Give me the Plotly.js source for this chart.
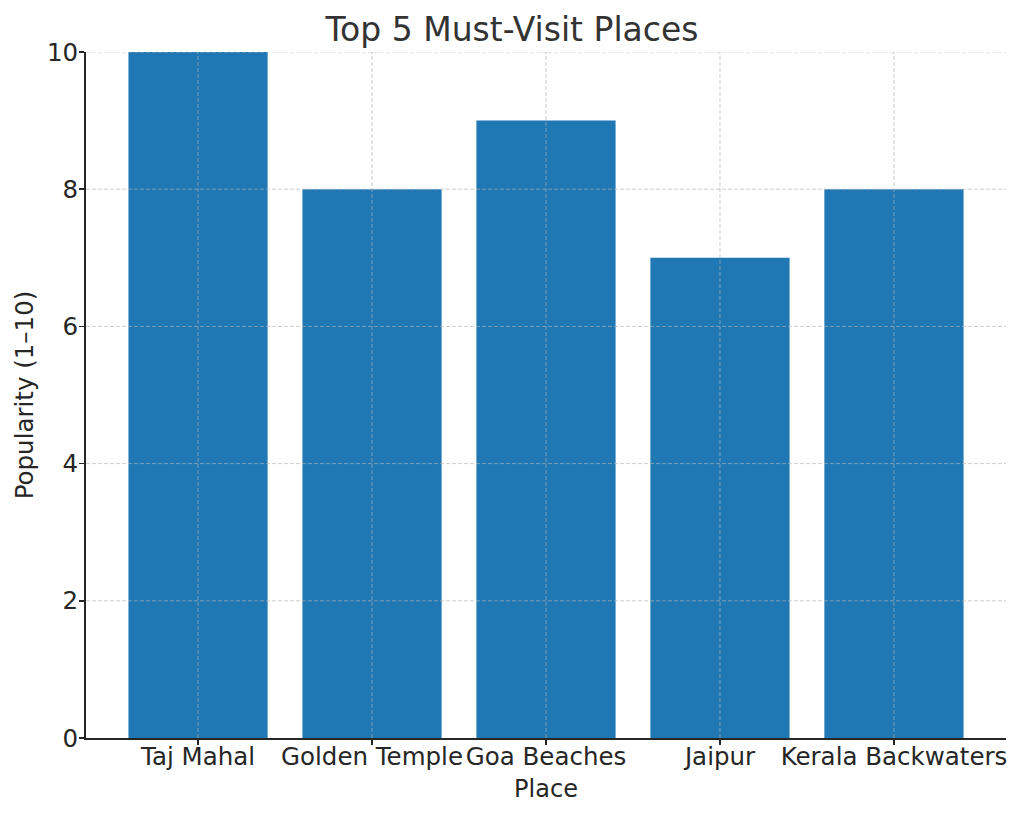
<!DOCTYPE html>
<html>
<head>
<meta charset="utf-8">
<script src="https://cdn.plot.ly/plotly-3.0.1.min.js"></script>
<style>html,body{margin:0;padding:0;background:#fff;}#chart{width:1024px;height:817px;}</style>
</head>
<body>
<div id="chart"></div>
<script>
const places = ["Taj Mahal", "Golden Temple", "Goa Beaches", "Jaipur", "Kerala Backwaters"];
const popularity = [10, 8, 9, 7, 8];
const yTicks = [0, 2, 4, 6, 8, 10];

const font = "DejaVu Sans, sans-serif";
const gridLine = {color: "rgba(180,180,180,0.65)", width: 1, dash: "4px,2px"};
const trace = {
  type: "bar",
  x: places,
  y: popularity,
  width: 0.8,
  marker: {color: "#1f77b4", line: {width: 0}},
  hoverinfo: "x+y"
};
const shapes = [];
places.forEach(p => shapes.push({type: "line", layer: "above", xref: "x", yref: "paper", x0: p, x1: p, y0: 0, y1: 1, line: gridLine}));
yTicks.forEach(v => { if (v > 0) shapes.push({type: "line", layer: "above", xref: "paper", yref: "y", x0: 0, x1: 1, y0: v, y1: v, line: gridLine}); });

const layout = {
  width: 1024, height: 817,
  margin: {l: 86, r: 18, t: 52, b: 79},
  paper_bgcolor: "#fff", plot_bgcolor: "#fff",
  showlegend: false,
  font: {family: font, color: "#262626", size: 24},
  title: {text: "Top 5 Must-Visit Places", font: {family: font, size: 33, color: "#333333"}, x: 0.5, xanchor: "center", y: 0.964, yanchor: "middle"},
  shapes: shapes,
  xaxis: {
    type: "category",
    range: [-0.644, 4.644],
    title: {text: "Place", font: {size: 24, color: "#262626"}, standoff: 10},
    showline: true, linecolor: "#262626", linewidth: 2,
    ticks: "outside", ticklen: 5, tickwidth: 1.5, tickcolor: "#262626",
    ticklabelstandoff: -9,
    showgrid: false,
    layer: "above traces",
    tickfont: {size: 24.5, color: "#262626"},
    zeroline: false, fixedrange: true
  },
  yaxis: {
    range: [0, 10],
    tickvals: yTicks,
    ticktext: yTicks.map(String),
    title: {text: "Popularity (1–10)", font: {size: 24.5, color: "#262626"}, standoff: 6},
    showline: true, linecolor: "#262626", linewidth: 2,
    ticks: "outside", ticklen: 5, tickwidth: 1.5, tickcolor: "#262626",
    ticklabelstandoff: -4,
    showgrid: false,
    layer: "above traces",
    tickfont: {size: 24.5, color: "#262626"},
    zeroline: false, fixedrange: true
  },
  bargap: 0.2
};
Plotly.newPlot("chart", [trace], layout, {displayModeBar: false, staticPlot: true});
</script>
</body>
</html>
